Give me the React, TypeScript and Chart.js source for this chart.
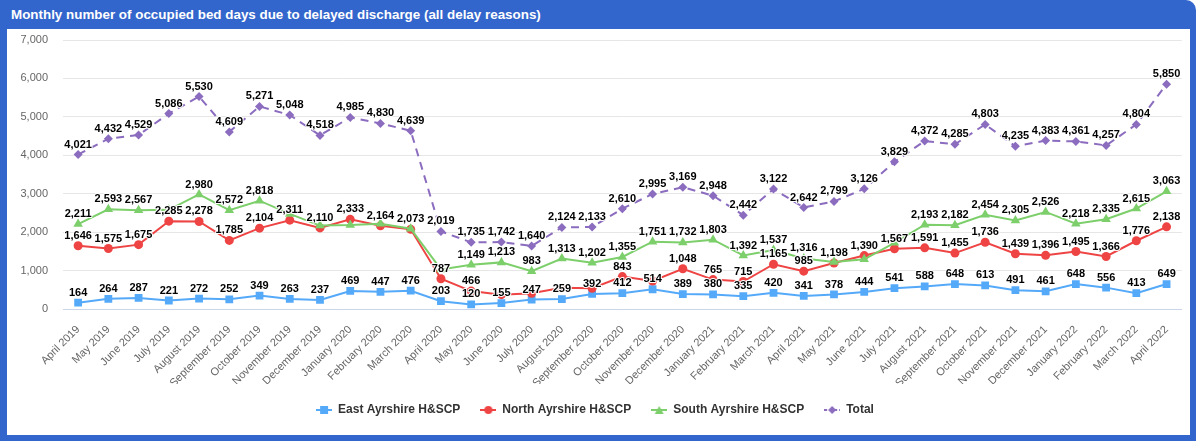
import React, { useEffect, useRef } from "react";
import { Chart, registerables } from "chart.js";

Chart.register(...registerables);

const months = [
  "April 2019", "May 2019", "June 2019", "July 2019", "August 2019", "September 2019",
  "October 2019", "November 2019", "December 2019", "January 2020", "February 2020", "March 2020",
  "April 2020", "May 2020", "June 2020", "July 2020", "August 2020", "September 2020",
  "October 2020", "November 2020", "December 2020", "January 2021", "February 2021", "March 2021",
  "April 2021", "May 2021", "June 2021", "July 2021", "August 2021", "September 2021",
  "October 2021", "November 2021", "December 2021", "January 2022", "February 2022", "March 2022",
  "April 2022",
];

const eastAyrshire = [
  164, 264, 287, 221, 272, 252, 349, 263, 237, 469, 447, 476,
  203, 120, 155, 247, 259, 392, 412, 514, 389, 380, 335, 420,
  341, 378, 444, 541, 588, 648, 613, 491, 461, 648, 556, 413, 649,
];

const northAyrshire = [
  1646, 1575, 1675, 2285, 2278, 1785, 2104, 2311, 2110, 2333, 2164, 2073,
  787, 466, 374, 410, 552, 539, 843, 730, 1048, 765, 715, 1165,
  985, 1198, 1390, 1567, 1591, 1455, 1736, 1439, 1396, 1495, 1366, 1776, 2138,
];

const southAyrshire = [
  2211, 2593, 2567, 2580, 2980, 2572, 2818, 2474, 2171, 2183, 2219, 2090,
  1029, 1149, 1213, 983, 1313, 1202, 1355, 1751, 1732, 1803, 1392, 1537,
  1316, 1223, 1292, 1721, 2193, 2182, 2454, 2305, 2526, 2218, 2335, 2615, 3063,
];

const totalDays = [
  4021, 4432, 4529, 5086, 5530, 4609, 5271, 5048, 4518, 4985, 4830, 4639,
  2019, 1735, 1742, 1640, 2124, 2133, 2610, 2995, 3169, 2948, 2442, 3122,
  2642, 2799, 3126, 3829, 4372, 4285, 4803, 4235, 4383, 4361, 4257, 4804, 5850,
];

const seriesNames = ["East Ayrshire H&SCP", "North Ayrshire H&SCP", "South Ayrshire H&SCP", "Total"];
const yTickMax = 7000;
const yTickStep = 1000;

const COLORS = ["#55a9f9", "#ee4444", "#7ccf6a", "#8b6cbf"];
const STYLES = ["rect", "circle", "triangle", "rectRot"];
const RADII = [5.5, 4.5, 5.5, 4.5];
const FONT = '"Liberation Sans", Arial, sans-serif';

function makeSymbol(color: string, style: string, dashed: boolean) {
  const c = document.createElement("canvas");
  c.width = 16;
  c.height = 12;
  const x = c.getContext("2d")!;
  x.strokeStyle = color;
  x.lineWidth = 2;
  if (dashed) x.setLineDash([3, 2]);
  x.beginPath();
  x.moveTo(0, 6);
  x.lineTo(16, 6);
  x.stroke();
  x.setLineDash([]);
  x.fillStyle = color;
  x.beginPath();
  if (style === "rect") {
    x.rect(4, 2, 8, 8);
  } else if (style === "circle") {
    x.arc(8, 6, 4, 0, Math.PI * 2);
  } else if (style === "triangle") {
    x.moveTo(8, 2);
    x.lineTo(12.5, 10);
    x.lineTo(3.5, 10);
    x.closePath();
  } else {
    x.moveTo(8, 2);
    x.lineTo(12, 6);
    x.lineTo(8, 10);
    x.lineTo(4, 6);
    x.closePath();
  }
  x.fill();
  return c;
}

const labelPlugin = {
  id: "pointLabels",
  afterDatasetsDraw(chart: any) {
    const ctx = chart.ctx as CanvasRenderingContext2D;
    ctx.save();
    ctx.font = `bold 11px ${FONT}`;
    const kept: { l: number; r: number; t: number; b: number; text: string; x: number; y: number }[] = [];
    chart.data.datasets.forEach((ds: any, di: number) => {
      const meta = chart.getDatasetMeta(di);
      meta.data.forEach((pt: any, i: number) => {
        const v = ds.data[i] as number;
        const text = v.toLocaleString("en-US");
        const w = ctx.measureText(text).width;
        const cx = pt.x;
        const cy = pt.y - 10;
        const box = { l: cx - w / 2, r: cx + w / 2, t: cy - 6, b: cy + 6 };
        const hit = kept.some(
          (k) => k.l < box.r && box.l < k.r && k.t < box.b && box.t < k.b
        );
        if (hit) return;
        kept.push({ ...box, text, x: cx, y: cy });
      });
    });
    ctx.textAlign = "center";
    ctx.textBaseline = "middle";
    ctx.lineJoin = "round";
    ctx.lineWidth = 2;
    ctx.strokeStyle = "#ffffff";
    ctx.fillStyle = "#000000";
    kept.forEach((k) => {
      ctx.strokeText(k.text, k.x, k.y);
      ctx.fillText(k.text, k.x, k.y);
    });
    ctx.restore();
  },
};

export default function App() {
  const ref = useRef<HTMLCanvasElement>(null);

  useEffect(() => {
    const values = [eastAyrshire, northAyrshire, southAyrshire, totalDays];
    const symbols = COLORS.map((c, i) => makeSymbol(c, STYLES[i], i === 3));
    const chart = new Chart(ref.current!, {
      type: "line",
      data: {
        labels: months,
        datasets: values.map((d, i) => ({
          label: seriesNames[i],
          data: d,
          borderColor: COLORS[i],
          backgroundColor: COLORS[i],
          pointBackgroundColor: COLORS[i],
          pointBorderColor: COLORS[i],
          pointBorderWidth: 0,
          pointStyle: STYLES[i] as any,
          pointRadius: RADII[i],
          borderWidth: 2,
          borderDash: i === 3 ? [8, 6] : [],
          tension: 0,
          fill: false,
          order: 3 - i,
        })),
      },
      options: {
        animation: false,
        responsive: false,
        layout: { padding: { top: 11, right: 7, bottom: 9, left: 0 } },
        plugins: {
          tooltip: { enabled: false },
          legend: {
            position: "bottom",
            labels: {
              usePointStyle: true,
              pointStyleWidth: 16,
              padding: 20,
              color: "#333333",
              font: { family: FONT, size: 12, weight: "bold" },
              generateLabels: () =>
                seriesNames.map((n, i) => ({
                  text: n,
                  pointStyle: symbols[i] as any,
                  fillStyle: COLORS[i],
                  strokeStyle: COLORS[i],
                  lineWidth: 0,
                  hidden: false,
                  datasetIndex: i,
                  fontColor: "#333333",
                })),
            },
          },
        },
        scales: {
          x: {
            offset: true,
            grid: { display: false, drawTicks: false },
            border: { display: true, color: "#ccd6eb", width: 1 },
            ticks: {
              color: "#666666",
              font: { family: FONT, size: 11 },
              minRotation: 45,
              maxRotation: 45,
              autoSkip: false,
              padding: 14,
            },
            afterFit: (s: any) => {
              s.height = 75;
            },
          },
          y: {
            min: 0,
            max: yTickMax,
            grid: {
              color: (c: any) => (c.tick && c.tick.value === 0 ? "#ccd6eb" : "#e6e6e6"),
              drawTicks: true,
              tickLength: 15,
              tickColor: "rgba(0,0,0,0)",
            },
            border: { display: false },
            ticks: {
              stepSize: yTickStep,
              color: "#666666",
              font: { family: FONT, size: 11 },
              padding: 0,
            },
            afterFit: (s: any) => {
              s.width = 56;
            },
          },
        },
      },
      plugins: [labelPlugin],
    });
    return () => chart.destroy();
  }, []);

  return (
    <div
      style={{
        position: "fixed",
        left: 0,
        top: 0,
        width: 1196,
        height: 441,
        background: "#3366cc",
        borderTopRightRadius: 10,
        overflow: "hidden",
      }}
    >
      <div
        style={{
          position: "absolute",
          left: 11,
          top: 7,
          color: "#ffffff",
          font: `bold 13.4px ${FONT}`,
          whiteSpace: "nowrap",
        }}
      >
        Monthly number of occupied bed days due to delayed discharge (all delay reasons)
      </div>
      <div
        style={{
          position: "absolute",
          left: 7,
          top: 29,
          width: 1183,
          height: 406,
          background: "#ffffff",
        }}
      >
        <canvas ref={ref} width={1183} height={406} style={{ display: "block" }} />
      </div>
    </div>
  );
}
